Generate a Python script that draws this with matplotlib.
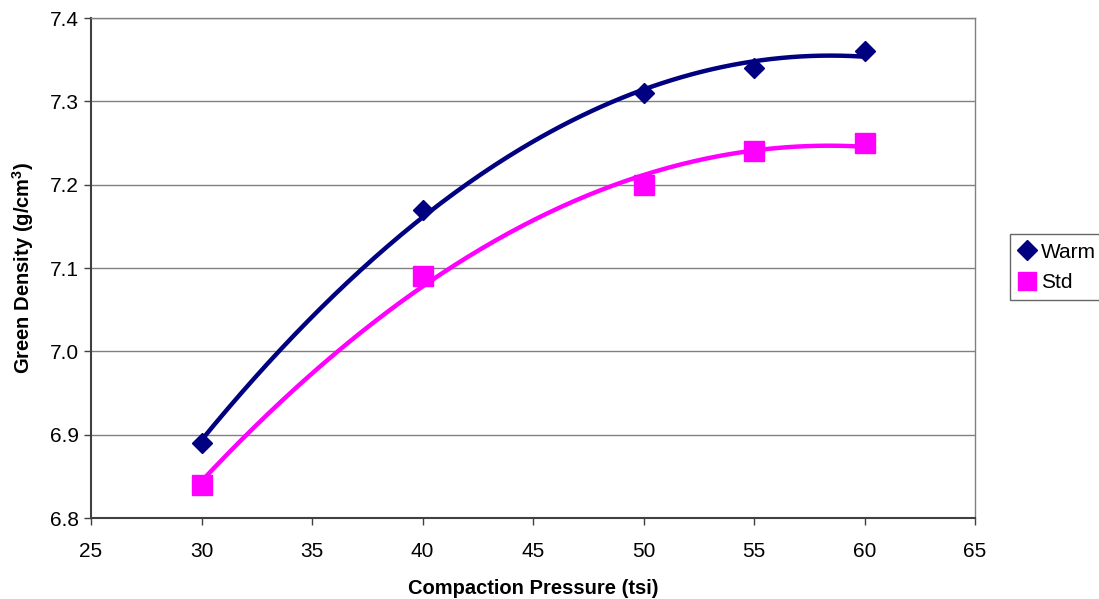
import numpy as np
import matplotlib.pyplot as plt
from matplotlib.lines import Line2D

plt.rcParams['font.family'] = ['Liberation Sans', 'DejaVu Sans']

pressure = [30, 40, 50, 55, 60]
warm = [6.89, 7.17, 7.31, 7.34, 7.36]
std = [6.84, 7.09, 7.20, 7.24, 7.25]

fig = plt.figure(figsize=(10.99, 5.99), dpi=100)
ax = fig.add_axes([0.0828, 0.1352, 0.8044, 0.8347])

xs = np.linspace(30, 60, 200)
# Excel-style 2nd order polynomial trendlines
cw = np.polyfit(pressure, warm, 2)
cs = np.polyfit(pressure, std, 2)
ax.plot(xs, np.polyval(cw, xs), color='#000080', lw=3.2, zorder=3)
ax.plot(xs, np.polyval(cs, xs), color='#FF00FF', lw=3.2, zorder=3)

ax.plot(pressure, warm, 'D', color='#000080', ms=10, ls='none', zorder=4)
ax.plot(pressure, std, 's', color='#FF00FF', ms=14, ls='none', zorder=4)

ax.set_xlim(25, 65)
ax.set_ylim(6.8, 7.4)
ax.set_xticks(range(25, 66, 5))
ax.set_yticks(np.arange(6.8, 7.41, 0.1))
ax.set_yticklabels([f'{v:.1f}' for v in np.arange(6.8, 7.41, 0.1)])
ax.grid(axis='y', color='#808080', lw=1)
ax.set_axisbelow(True)
ax.tick_params(direction='out', length=5, labelsize=15, color='#404040', width=1)
ax.tick_params(axis='x', pad=12)

for s in ['left', 'bottom']:
    ax.spines[s].set_color('#404040')
    ax.spines[s].set_linewidth(1.5)
for s in ['right', 'top']:
    ax.spines[s].set_color('#808080')
    ax.spines[s].set_linewidth(1)

ax.set_xlabel('Compaction Pressure (tsi)', fontsize=14.5, fontweight='bold', labelpad=13)
ax.set_ylabel('Green Density (g/cm$^\\mathregular{3}$)', fontsize=14.5, fontweight='bold', labelpad=10)

handles = [
    Line2D([], [], marker='D', color='#000080', ls='none', ms=10),
    Line2D([], [], marker='s', color='#FF00FF', ls='none', ms=13),
]
leg = fig.legend(handles, ['Warm', 'Std'], loc='upper left', bbox_to_anchor=(0.919, 0.609),
                 fontsize=15, frameon=True, fancybox=False, edgecolor='#404040',
                 handlelength=0.8, handletextpad=0.3, borderpad=0.4, labelspacing=0.55,
                 borderaxespad=0)
leg.get_frame().set_linewidth(1)

fig.savefig('out.png', dpi=100)
